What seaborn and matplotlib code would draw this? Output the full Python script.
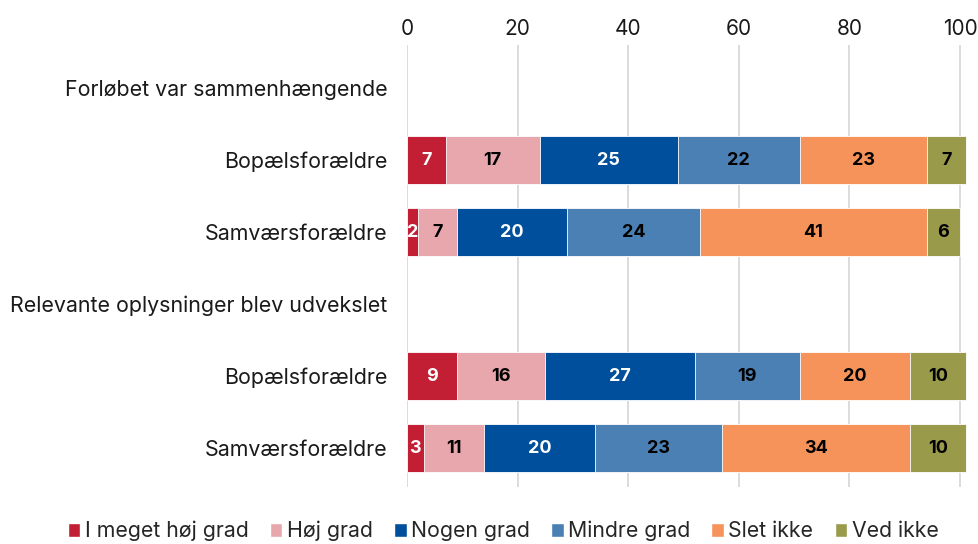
import numpy as np
import pandas as pd
import seaborn as sns
import matplotlib.pyplot as plt
from matplotlib.patches import Patch

# rækker (tomme rækker er overskrifter)
row_labels = ["Forløbet var sammenhængende", "Bopælsforældre", "Samværsforældre",
              "Relevante oplysninger blev udvekslet", "Bopælsforældre", "Samværsforældre"]
series = ["I meget høj grad", "Høj grad", "Nogen grad", "Mindre grad", "Slet ikke", "Ved ikke"]

meget_hoj = [np.nan, 7, 2, np.nan, 9, 3]
hoj = [np.nan, 17, 7, np.nan, 16, 11]
nogen = [np.nan, 25, 20, np.nan, 27, 20]
mindre = [np.nan, 22, 24, np.nan, 19, 23]
slet_ikke = [np.nan, 23, 41, np.nan, 20, 34]
ved_ikke = [np.nan, 7, 6, np.nan, 10, 10]

colors = ["#C21F35", "#E8A6AD", "#004F9C", "#4A80B4", "#F5935B", "#9A9A4B"]
text_colors = ["white", "black", "white", "black", "black", "black"]

sns.set_theme(style="white")
plt.rcParams['font.family'] = ['Inter', 'DejaVu Sans']

keys = [f"r{i}" for i in range(len(row_labels))]
vals = np.array([meget_hoj, hoj, nogen, mindre, slet_ikke, ved_ikke], dtype=float)
cum = np.nancumsum(vals, axis=0)
cum[:, np.isnan(vals[0])] = np.nan

xmax = 102
px_per = (960 - 407) / 100
fig = plt.figure(figsize=(9.79, 5.44), dpi=100)
ax = fig.add_axes([407 / 979, 1 - 487 / 544, px_per * xmax / 979, (487 - 45) / 544])

for i in range(len(series) - 1, -1, -1):
    df = pd.DataFrame({"key": keys, "val": cum[i]})
    sns.barplot(data=df, x="val", y="key", order=keys, color=colors[i], orient="h",
                width=0.66, saturation=1, linewidth=0.6, edgecolor="white", ax=ax)

# værdietiketter
for r in range(len(keys)):
    if np.isnan(vals[0, r]):
        continue
    left = 0
    for i in range(len(series)):
        v = vals[i, r]
        ax.text(left + v / 2, r, f"{v:.0f}", ha="center", va="center",
                color=text_colors[i], fontsize=13, fontweight="bold")
        left += v

ax.set_xlim(0, xmax)
ax.set_ylim(5.54, -0.6)
ax.set_xticks(range(0, 101, 20))
ax.xaxis.tick_top()
ax.tick_params(axis="x", which="both", length=0, labelsize=15, pad=4,
               labelcolor="#1a1a1a")
ax.set_yticks(range(len(keys)))
ax.set_yticklabels(row_labels, fontsize=15.4, color="#1a1a1a")
ax.tick_params(axis="y", length=0, pad=14)
ax.set_xlabel("")
ax.set_ylabel("")
ax.grid(axis="x", color="#D9D9D9", linewidth=1.3)
ax.set_axisbelow(True)
for s in ax.spines.values():
    s.set_visible(False)

handles = [Patch(facecolor=c, label=s) for c, s in zip(colors, series)]
fig.legend(handles=handles, loc="center", bbox_to_anchor=(503 / 979, 1 - 531 / 544),
           ncol=6, frameon=False, fontsize=15.3, handlelength=0.6, handleheight=0.6,
           handletextpad=0.2, columnspacing=1.0)

fig.savefig("out.png", dpi=100)
